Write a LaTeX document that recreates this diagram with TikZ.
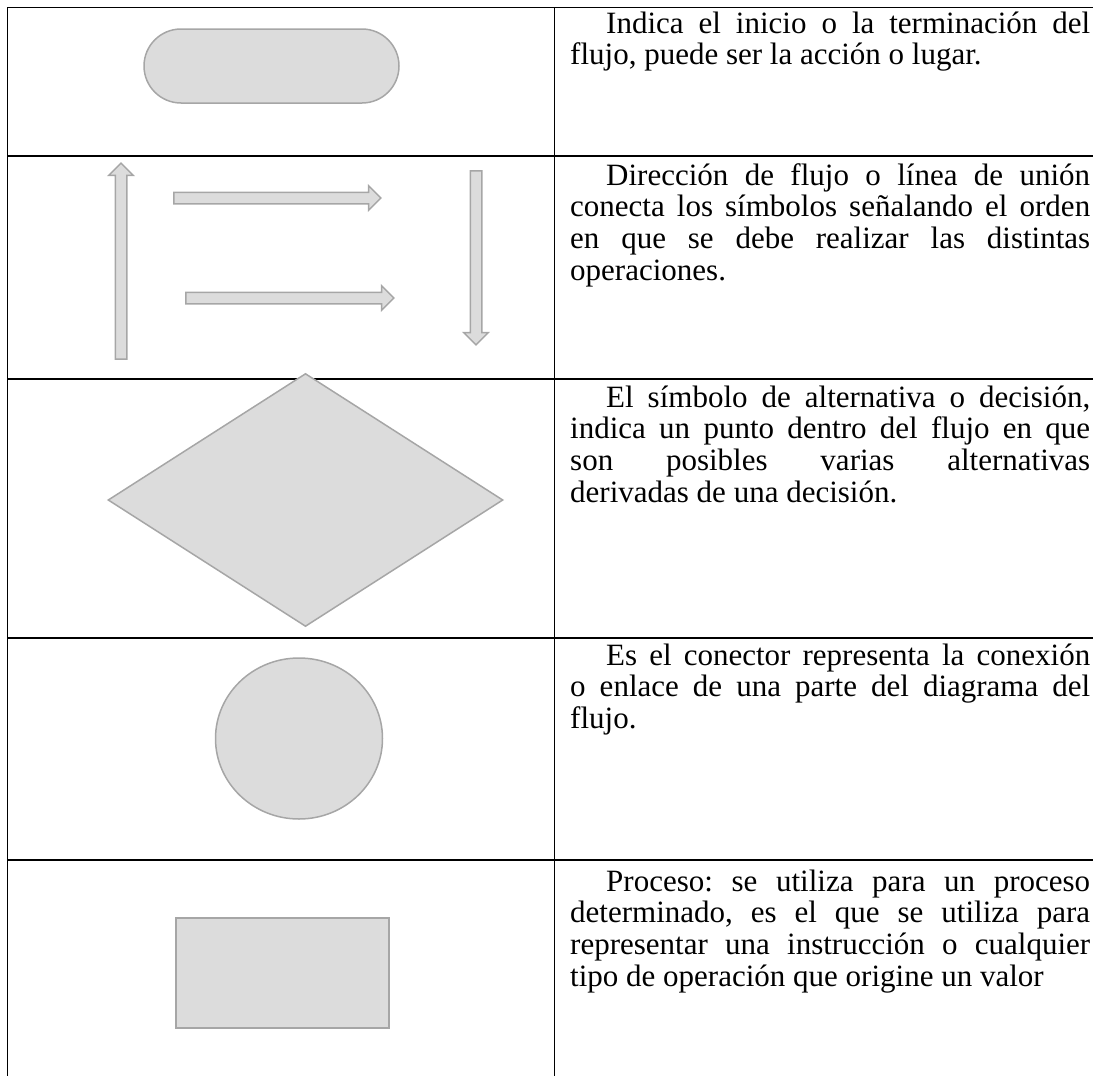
\documentclass[tikz,border=0pt]{standalone}
\usepackage{fontspec}
\setmainfont{Liberation Serif}
\usetikzlibrary{shapes.geometric,shapes.misc,shapes.arrows}
\definecolor{symfill}{RGB}{220,220,220}
\definecolor{symline}{RGB}{166,166,166}
\frenchspacing
\begin{document}
\begin{tikzpicture}[x=1pt, y=-1pt,
    symbol/.style={draw=symline, fill=symfill, line width=1.5pt, inner sep=0pt},
    flecha/.style={symbol, single arrow, single arrow head extend=6.5pt, inner sep=5pt, minimum width=23pt},
    desc/.style={anchor=base west, inner sep=0pt, text width=520pt, align=justify,
        font=\fontsize{31}{31.7}\selectfont},
    tabla/.style={line width=1.3pt}]
    \useasboundingbox (0,0) rectangle (1093,1076);

    \draw[tabla] (7.7,1076) -- (7.7,7.7) -- (1093,7.7);
    \draw[tabla] (554.7,7.7) -- (554.7,1076);
    \foreach \y in {156,379,638,860}
        \draw[tabla] (7.7,\y) -- (1093,\y);

    \node[symbol, rounded rectangle, minimum width=255pt, minimum height=74pt] (inicio) at (271.5,66) {};

    \node[flecha, rotate=90, minimum height=196pt] (arriba) at (121,264) {};
    \node[flecha, minimum height=207pt] (derechaA) at (274.5,198) {};
    \node[flecha, minimum height=208pt] (derechaB) at (287,298) {};
    \node[flecha, rotate=-90, minimum height=174pt] (abajo) at (476,255) {};

    \node[symbol, diamond, minimum width=395pt, minimum height=253pt] (decision) at (305.5,500) {};
    \node[symbol, ellipse, minimum width=167pt, minimum height=161pt] (conector) at (299,738.5) {};
    \node[symbol, rectangle, minimum width=213pt, minimum height=110pt] (proceso) at (282.5,973) {};

    \node[desc] (txtinicio) at (570,33) {\hspace*{36pt}Indica el inicio o la terminación del\linebreak
        flujo, puede ser la acción o lugar.};
    \node[desc] (txtflecha) at (570,185) {\hspace*{36pt}Dirección de flujo o línea de unión\linebreak
        conecta los símbolos señalando el orden\linebreak
        en que se debe realizar las distintas\linebreak
        operaciones.};
    \node[desc] (txtdecision) at (570,407) {\hspace*{36pt}El símbolo de alternativa o decisión,\linebreak
        indica un punto dentro del flujo en que\linebreak
        son posibles varias alternativas\linebreak
        derivadas de una decisión.};
    \node[desc] (txtconector) at (570,665) {\hspace*{36pt}Es el conector representa la conexión\linebreak
        o enlace de una parte del diagrama del\linebreak
        flujo.};
    \node[desc] (txtproceso) at (570,891) {\hspace*{36pt}Proceso: se utiliza para un proceso\linebreak
        determinado, es el que se utiliza para\linebreak
        representar una instrucción o cualquier\linebreak
        tipo de operación que origine un valor};
\end{tikzpicture}
\end{document}
